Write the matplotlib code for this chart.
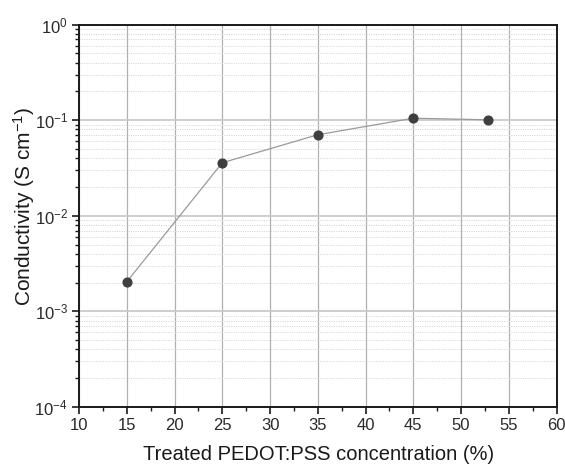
import numpy as np
import matplotlib.pyplot as plt
from matplotlib.ticker import LogLocator, MultipleLocator, NullFormatter, LogFormatterMathtext

plt.rcParams['font.family'] = ['Liberation Sans', 'DejaVu Sans']
plt.rcParams['mathtext.fontset'] = 'custom'
plt.rcParams['mathtext.rm'] = 'Liberation Sans'
plt.rcParams['mathtext.it'] = 'Liberation Sans:italic'

# treated PEDOT:PSS concentration (%) and conductivity (S/cm)
concentration = [15, 25, 35, 45, 52.8]
conductivity = [0.00204, 0.0359, 0.0705, 0.105, 0.101]

x_ticks = np.arange(10, 60.0001, 5)

fig = plt.figure(figsize=(5.65, 4.66), dpi=100)
ax = fig.add_axes([0.14, 0.127, 0.845, 0.82])

ax.plot(concentration, conductivity, color='#9a9a9a', lw=0.9, zorder=3)
ax.plot(concentration, conductivity, 'o', color='#3f3f3f', ms=6.3, zorder=4)

ax.set_yscale('log')
ax.set_xlim(10, 60)
ax.set_ylim(1e-4, 1)
ax.set_xticks(x_ticks)
ax.xaxis.set_minor_locator(MultipleLocator(2.5))
ax.yaxis.set_major_locator(LogLocator(base=10))
ax.yaxis.set_major_formatter(LogFormatterMathtext())
ax.yaxis.set_minor_locator(LogLocator(base=10, subs=np.arange(2, 10)))
ax.yaxis.set_minor_formatter(NullFormatter())

# grid: solid major, dotted minor on y
ax.grid(which='major', axis='x', color='#b0b0b0', lw=0.9)
ax.grid(which='major', axis='y', color='#cacaca', lw=1.3)
ax.grid(which='minor', axis='y', color='#d8d8d8', lw=0.7, ls=(0, (1.2, 1.2)))
ax.set_axisbelow(True)

for side in ['left', 'bottom', 'top', 'right']:
    ax.spines[side].set_linewidth(1.4)
    ax.spines[side].set_color('#1a1a1a')

ax.tick_params(which='major', direction='out', length=5, width=1.2, labelsize=12,
               colors='#1a1a1a', labelcolor='#2a2a2a', pad=3)
ax.tick_params(which='minor', direction='out', length=3, width=1.0, colors='#1a1a1a')
ax.tick_params(top=False, right=False, which='both')

ax.set_xlabel('Treated PEDOT:PSS concentration (%)', fontsize=14.5, color='#1a1a1a')
ax.set_ylabel('Conductivity (S cm$^{-1}$)', fontsize=15, color='#1a1a1a')
ax.xaxis.set_label_coords(0.502, -0.126)
ax.yaxis.set_label_coords(-0.115, 0.524)
ax.xaxis.label.set_va('center')
ax.yaxis.label.set_va('center')

fig.savefig('out.png', dpi=100)
